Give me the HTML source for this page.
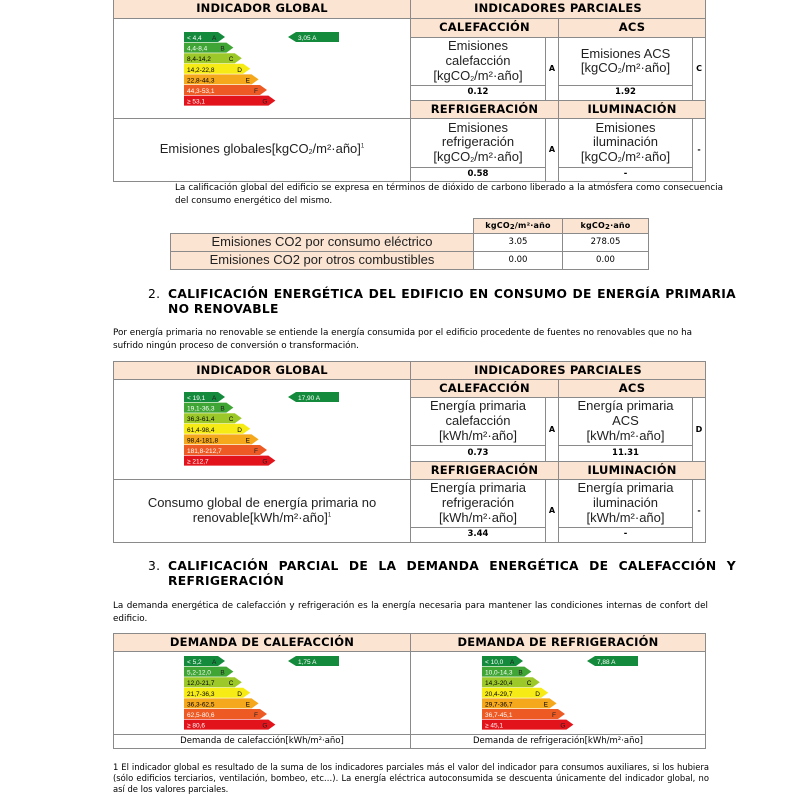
<!DOCTYPE html>
<html><head><meta charset="utf-8"><style>
body{margin:0;width:800px;height:800px;background:#fff;position:relative;overflow:hidden;font-family:"DejaVu Sans","Liberation Sans",sans-serif;color:#000}
.c{position:absolute;box-sizing:border-box;border:1px solid #8a8a8a;display:flex;align-items:center;justify-content:center;text-align:center;line-height:1.15}
.h{background:#fbe4d2;font-weight:bold;font-size:11.5px;letter-spacing:0.2px}
.t{font-family:"Liberation Sans",sans-serif;font-size:13px;color:#222}
.v{font-weight:bold;font-size:8.5px}
.l{font-weight:bold;font-size:8px}
.p{position:absolute;font-size:8.8px;line-height:12.5px}
.hd{position:absolute;font-weight:bold;font-size:12.3px;letter-spacing:0.3px;line-height:15px}
svg{position:absolute}
sub{font-size:7px;vertical-align:-1px}
</style></head><body>

<div class="c h" style="left:113px;top:-1px;width:298px;height:20px">INDICADOR GLOBAL</div>
<div class="c h" style="left:410px;top:-1px;width:296px;height:20px">INDICADORES PARCIALES</div>
<div class="c h" style="left:410px;top:18px;width:149px;height:20px">CALEFACCIÓN</div>
<div class="c h" style="left:558px;top:18px;width:148px;height:20px">ACS</div>
<div class="c t" style="left:410px;top:37px;width:136px;height:49px"><span>Emisiones<br>calefacción<br>[kgCO<sub>2</sub>/m²·año]</span></div>
<div class="c l" style="left:545px;top:37px;width:14px;height:64px">A</div>
<div class="c t" style="left:558px;top:37px;width:135px;height:49px"><span>Emisiones ACS<br>[kgCO<sub>2</sub>/m²·año]</span></div>
<div class="c l" style="left:692px;top:37px;width:14px;height:64px">C</div>
<div class="c v" style="left:410px;top:85px;width:136px;height:16px">0.12</div>
<div class="c v" style="left:558px;top:85px;width:135px;height:16px">1.92</div>
<div class="c h" style="left:410px;top:100px;width:149px;height:19px">REFRIGERACIÓN</div>
<div class="c h" style="left:558px;top:100px;width:148px;height:19px">ILUMINACIÓN</div>
<div class="c t" style="left:410px;top:118px;width:136px;height:50px"><span>Emisiones<br>refrigeración<br>[kgCO<sub>2</sub>/m²·año]</span></div>
<div class="c l" style="left:545px;top:118px;width:14px;height:64px">A</div>
<div class="c t" style="left:558px;top:118px;width:135px;height:50px"><span>Emisiones<br>iluminación<br>[kgCO<sub>2</sub>/m²·año]</span></div>
<div class="c l" style="left:692px;top:118px;width:14px;height:64px">-</div>
<div class="c v" style="left:410px;top:167px;width:136px;height:15px">0.58</div>
<div class="c v" style="left:558px;top:167px;width:135px;height:15px">-</div>
<div class="c" style="left:113px;top:18px;width:298px;height:101px"></div>
<div class="c t" style="left:113px;top:118px;width:298px;height:64px"><span>Emisiones globales[kgCO<sub>2</sub>/m²·año]<sup style="font-size:6px">1</sup></span></div>

<svg width="800" height="800" style="left:0;top:0" font-family="Liberation Sans, sans-serif" font-size="6.5">
<defs>
<g id="bars">
<polygon points="0,0 34,0 41,5 34,10 0,10" fill="#138a3c"/>
<polygon points="0,10.6 42.4,10.6 49.4,15.6 42.4,20.6 0,20.6" fill="#3fa535"/>
<polygon points="0,21.2 50.8,21.2 57.8,26.2 50.8,31.2 0,31.2" fill="#9dc82a"/>
<polygon points="0,31.8 59.2,31.8 66.2,36.8 59.2,41.8 0,41.8" fill="#f6eb14"/>
<polygon points="0,42.4 67.6,42.4 74.6,47.4 67.6,52.4 0,52.4" fill="#f5a81c"/>
<polygon points="0,53 76,53 83,58 76,63 0,63" fill="#ee5a24"/>
<polygon points="0,63.6 84.4,63.6 91.4,68.6 84.4,73.6 0,73.6" fill="#e3131b"/>
<text x="28" y="8" fill="#222">A</text><text x="36.4" y="18.6" fill="#222">B</text><text x="44.8" y="29.2">C</text><text x="53.2" y="39.8">D</text><text x="61.6" y="50.4">E</text><text x="70" y="61" fill="#222">F</text><text x="78.4" y="71.6" fill="#222">G</text>
</g>
<polygon id="ptr" points="0,5 8,0 51,0 51,10 8,10" fill="#138a3c"/>
</defs>
<g transform="translate(184,32)"><use href="#bars"/>
<text x="3" y="8" fill="#fff">&lt; 4,4</text><text x="3" y="18.6" fill="#fff">4,4-8,4</text><text x="3" y="29.2">8,4-14,2</text><text x="3" y="39.8">14,2-22,8</text><text x="3" y="50.4">22,8-44,3</text><text x="3" y="61" fill="#fff">44,3-53,1</text><text x="3" y="71.6" fill="#fff">≥ 53,1</text></g>
<g transform="translate(288,32)"><use href="#ptr"/><text x="10" y="8" fill="#fff">3,05 A</text></g>
<g transform="translate(184,392)"><use href="#bars"/>
<text x="3" y="8" fill="#fff">&lt; 19,1</text><text x="3" y="18.6" fill="#fff">19,1-36,3</text><text x="3" y="29.2">36,3-61,4</text><text x="3" y="39.8">61,4-98,4</text><text x="3" y="50.4">98,4-181,8</text><text x="3" y="61" fill="#fff">181,8-212,7</text><text x="3" y="71.6" fill="#fff">≥ 212,7</text></g>
<g transform="translate(288,392)"><use href="#ptr"/><text x="10" y="8" fill="#fff">17,90 A</text></g>
<g transform="translate(184,656)"><use href="#bars"/>
<text x="3" y="8" fill="#fff">&lt; 5,2</text><text x="3" y="18.6" fill="#fff">5,2-12,0</text><text x="3" y="29.2">12,0-21,7</text><text x="3" y="39.8">21,7-36,3</text><text x="3" y="50.4">36,3-62,5</text><text x="3" y="61" fill="#fff">62,5-80,6</text><text x="3" y="71.6" fill="#fff">≥ 80,6</text></g>
<g transform="translate(288,656)"><use href="#ptr"/><text x="10" y="8" fill="#fff">1,75 A</text></g>
<g transform="translate(482,656)"><use href="#bars"/>
<text x="3" y="8" fill="#fff">&lt; 10,0</text><text x="3" y="18.6" fill="#fff">10,0-14,3</text><text x="3" y="29.2">14,3-20,4</text><text x="3" y="39.8">20,4-29,7</text><text x="3" y="50.4">29,7-36,7</text><text x="3" y="61" fill="#fff">36,7-45,1</text><text x="3" y="71.6" fill="#fff">≥ 45,1</text></g>
<g transform="translate(587,656)"><use href="#ptr"/><text x="10" y="8" fill="#fff">7,88 A</text></g>
</svg>

<div class="p" style="left:175px;top:182px;width:548px;text-align:justify">La calificación global del edificio se expresa en términos de dióxido de carbono liberado a la atmósfera como consecuencia del consumo energético del mismo.</div>

<div class="c h" style="left:473px;top:218px;width:90px;height:16px;font-size:8px"><span>kgCO<sub>2</sub>/m²·año</span></div>
<div class="c h" style="left:562px;top:218px;width:87px;height:16px;font-size:8px"><span>kgCO<sub>2</sub>·año</span></div>
<div class="c t" style="left:170px;top:233px;width:304px;height:19px;background:#fbe4d2">Emisiones CO2 por consumo eléctrico</div>
<div class="c" style="left:473px;top:233px;width:90px;height:19px;font-size:8.5px">3.05</div>
<div class="c" style="left:562px;top:233px;width:87px;height:19px;font-size:8.5px">278.05</div>
<div class="c t" style="left:170px;top:251px;width:304px;height:19px;background:#fbe4d2">Emisiones CO2 por otros combustibles</div>
<div class="c" style="left:473px;top:251px;width:90px;height:19px;font-size:8.5px">0.00</div>
<div class="c" style="left:562px;top:251px;width:87px;height:19px;font-size:8.5px">0.00</div>

<div class="hd" style="left:148px;top:287px;font-weight:normal">2.</div>
<div class="hd" style="left:168px;top:287px;width:568px;text-align:justify;text-align-last:left">CALIFICACIÓN ENERGÉTICA DEL EDIFICIO EN CONSUMO DE ENERGÍA PRIMARIA NO RENOVABLE</div>
<div class="p" style="left:113px;top:327px;width:585px">Por energía primaria no renovable se entiende la energía consumida por el edificio procedente de fuentes no renovables que no ha sufrido ningún proceso de conversión o transformación.</div>

<div class="c h" style="left:113px;top:361px;width:298px;height:19px">INDICADOR GLOBAL</div>
<div class="c h" style="left:410px;top:361px;width:296px;height:19px">INDICADORES PARCIALES</div>
<div class="c h" style="left:410px;top:379px;width:149px;height:19px">CALEFACCIÓN</div>
<div class="c h" style="left:558px;top:379px;width:148px;height:19px">ACS</div>
<div class="c t" style="left:410px;top:397px;width:136px;height:49px"><span>Energía primaria<br>calefacción<br>[kWh/m²·año]</span></div>
<div class="c l" style="left:545px;top:397px;width:14px;height:65px">A</div>
<div class="c t" style="left:558px;top:397px;width:135px;height:49px"><span>Energía primaria<br>ACS<br>[kWh/m²·año]</span></div>
<div class="c l" style="left:692px;top:397px;width:14px;height:65px">D</div>
<div class="c v" style="left:410px;top:445px;width:136px;height:17px">0.73</div>
<div class="c v" style="left:558px;top:445px;width:135px;height:17px">11.31</div>
<div class="c h" style="left:410px;top:461px;width:149px;height:19px">REFRIGERACIÓN</div>
<div class="c h" style="left:558px;top:461px;width:148px;height:19px">ILUMINACIÓN</div>
<div class="c t" style="left:410px;top:479px;width:136px;height:49px"><span>Energía primaria<br>refrigeración<br>[kWh/m²·año]</span></div>
<div class="c l" style="left:545px;top:479px;width:14px;height:64px">A</div>
<div class="c t" style="left:558px;top:479px;width:135px;height:49px"><span>Energía primaria<br>iluminación<br>[kWh/m²·año]</span></div>
<div class="c l" style="left:692px;top:479px;width:14px;height:64px">-</div>
<div class="c v" style="left:410px;top:527px;width:136px;height:16px">3.44</div>
<div class="c v" style="left:558px;top:527px;width:135px;height:16px">-</div>
<div class="c" style="left:113px;top:379px;width:298px;height:101px"></div>
<div class="c t" style="left:113px;top:479px;width:298px;height:64px"><span>Consumo global de energía primaria no<br>renovable[kWh/m²·año]<sup style="font-size:6px">1</sup></span></div>

<div class="hd" style="left:148px;top:559px;font-weight:normal">3.</div>
<div class="hd" style="left:168px;top:559px;width:568px;text-align:justify;text-align-last:left">CALIFICACIÓN PARCIAL DE LA DEMANDA ENERGÉTICA DE CALEFACCIÓN Y REFRIGERACIÓN</div>
<div class="p" style="left:113px;top:600px;width:595px;text-align:justify">La demanda energética de calefacción y refrigeración es la energía necesaria para mantener las condiciones internas de confort del edificio.</div>

<div class="c h" style="left:113px;top:633px;width:298px;height:19px">DEMANDA DE CALEFACCIÓN</div>
<div class="c h" style="left:410px;top:633px;width:296px;height:19px">DEMANDA DE REFRIGERACIÓN</div>
<div class="c" style="left:113px;top:651px;width:298px;height:84px"></div>
<div class="c" style="left:410px;top:651px;width:296px;height:84px"></div>
<div class="c" style="left:113px;top:734px;width:298px;height:15px;font-size:8.5px">Demanda de calefacción[kWh/m²·año]</div>
<div class="c" style="left:410px;top:734px;width:296px;height:15px;font-size:8.5px">Demanda de refrigeración[kWh/m²·año]</div>

<div class="p" style="left:113px;top:762px;width:596px;text-align:justify;font-size:8.4px;line-height:11px">1 El indicador global es resultado de la suma de los indicadores parciales más el valor del indicador para consumos auxiliares, si los hubiera (sólo edificios terciarios, ventilación, bombeo, etc…). La energía eléctrica autoconsumida se descuenta únicamente del indicador global, no así de los valores parciales.</div>

</body></html>
